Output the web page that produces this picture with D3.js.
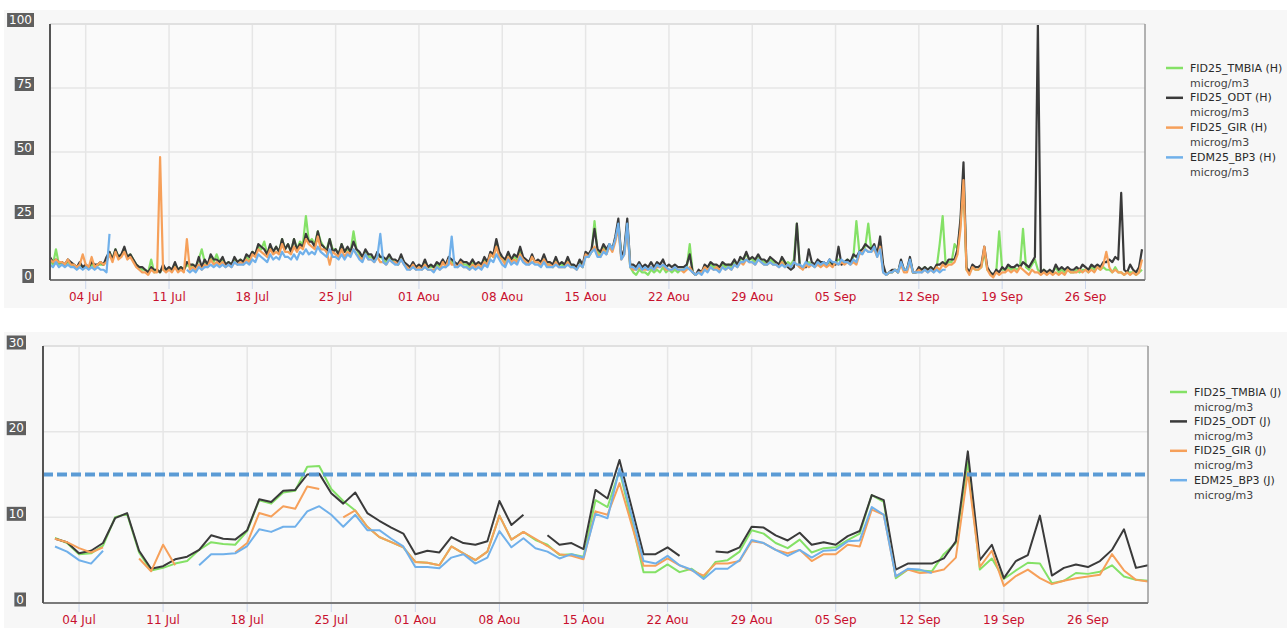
<!DOCTYPE html>
<html>
<head>
<meta charset="utf-8">
<script src="https://cdn.jsdelivr.net/npm/d3@7"></script>
<style>
  body { margin: 0; background: #fff; }
  svg { display: block; font-family: "DejaVu Sans", Verdana, sans-serif; }
</style>
</head>
<body>
<svg id="chart" width="1287" height="628"></svg>
<script>
// Period shown: 1 Jul -> 1 Oct
const START = Date.UTC(2025, 6, 1);
const END = Date.UTC(2025, 9, 1);
const FIRST_TICK = Date.UTC(2025, 6, 4);
const HOUR = 3600e3;
const DAY = 24 * HOUR;
const MONTHS_FR = ["Jan", "Fev", "Mar", "Avr", "Mai", "Jun", "Jul", "Aou", "Sep", "Oct", "Nov", "Dec"];

// ─────────────────────────────────────────────────────────────
// Hourly panel, sampled every 6 h (00h, 06h, 12h, 18h), one row per week
// ─────────────────────────────────────────────────────────────
const TMBIA_H = [
  8,6,12,6, 7,6,7,6, 6,5,6,5, 5,5,6,5, 6,6,6,8, 11,8,12,9, 10,12,9,10,
  8,6,5,4, 4,3,8,3, 4,3,5,4, 4,4,6,4, 5,4,6,5, 6,5,8,12, 7,6,9,7,
  10,7,8,6, 7,6,8,7, 8,7,9,8, 11,10,13,12, 15,10,13,11, 13,11,16,12, 14,11,16,12,
  15,14,25,15, 16,14,19,15, 13,12,16,12, 12,10,14,11, 12,11,19,12, 10,9,11,9, 9,8,10,9,
  8,7,9,8, 7,6,9,7, 5,5,6,5, 5,5,7,5, 5,5,6,5, 7,6,8,7, 6,6,7,6,
  6,5,7,6, 6,6,8,6, 10,9,14,10, 8,7,10,8, 9,8,11,8, 7,7,9,7, 7,6,8,6,
  6,5,8,6, 6,5,8,6, 5,5,7,5, 10,9,11,23, 11,10,13,11, 13,12,16,22, 9,11,22,5,
  3,2,4,3, 3,2,4,3, 4,3,5,3, 4,3,4,3, 4,4,5,14, 3,2,3,3, 5,4,6,5,
  5,5,6,5, 6,5,7,6, 8,8,10,8, 8,7,9,8, 7,6,8,7, 6,6,8,6, 7,6,8,22,
  5,5,6,7, 6,6,7,6, 6,6,7,6, 7,8,7,7, 8,7,9,23, 11,12,13,22, 12,13,10,14,
  5,2,3,3, 4,3,7,4, 4,8,3,3, 4,4,5,4, 5,4,5,14, 25,6,7,7, 14,12,22,40,
  4,3,5,4, 4,5,11,4, 3,2,3,19, 4,4,5,4, 5,4,5,20, 5,4,6,8, 4,3,4,3,
  3,3,5,3, 4,3,4,3, 3,4,3,4, 4,3,5,4, 5,4,5,4, 4,3,5,3, 3,2,3,3,
  3,2,3,4
];

const ODT_H = [
  9,7,8,7, 7,6,8,7, 6,5,7,5, 6,5,7,6, 6,7,6,9, 11,8,12,9, 10,13,9,10,
  8,6,5,5, 4,3,5,4, 4,3,6,4, 5,4,7,4, 5,4,7,6, 6,5,9,5, 8,6,10,8,
  8,7,9,6, 7,6,9,7, 8,7,10,9, 11,10,14,13, 12,10,14,11, 13,11,16,12, 14,11,16,12,
  14,13,18,15, 15,13,19,14, 13,11,16,11, 12,10,14,11, 13,11,15,12, 11,9,12,10, 10,8,11,9,
  9,8,10,8, 8,7,10,7, 6,5,7,5, 6,5,8,5, 6,5,7,6, 8,6,9,8, 7,6,8,7,
  7,6,8,6, 7,6,9,7, 11,10,16,11, 9,8,11,8, 10,9,13,9, 8,7,10,7, 8,7,10,7,
  7,6,9,6, 7,6,9,6, 6,5,8,6, 11,10,12,20, 12,11,14,12, 14,12,17,24, 9,12,24,6,
  6,5,7,5, 6,5,7,5, 7,6,8,5, 6,5,6,5, 5,5,6,10, 3,2,4,3, 6,5,7,6,
  6,5,7,6, 6,6,8,6, 9,8,11,8, 9,8,10,8, 8,7,9,8, 7,6,9,7, 5,4,5,22,
  5,5,5,12, 7,6,8,7, 7,6,8,6, 6,13,6,7, 8,7,10,9, 11,12,14,13, 12,14,10,17,
  6,2,3,4, 4,3,8,4, 4,9,3,3, 5,4,5,4, 5,4,6,6, 7,6,8,8, 8,12,24,46,
  5,3,6,5, 5,6,13,5, 3,2,4,3, 5,4,6,5, 5,6,5,7, 6,5,7,9, 100,3,4,3,
  4,3,6,4, 5,4,5,4, 4,5,4,6, 5,4,6,5, 6,5,7,7, 8,7,9,8, 34,4,3,6,
  4,3,5,12
];

const GIR_H = [
  8,7,8,7, 7,6,8,6, 6,5,6,10, 6,5,9,5, 6,7,6,7, 10,7,11,8, 9,11,8,9,
  7,5,4,3, 3,2,4,3, 3,48,4,3, 4,3,5,3, 4,3,16,4, 5,4,6,4, 6,5,8,6,
  7,6,7,5, 6,5,7,6, 7,6,8,7, 10,9,12,11, 10,9,12,10, 11,10,14,11, 11,10,13,11,
  13,12,16,14, 13,12,17,12, 12,11,6,11, 10,9,12,9, 11,10,12,10, 9,8,10,8, 8,7,9,7,
  7,6,8,7, 7,6,8,6, 5,4,6,4, 5,4,6,4, 4,4,5,4, 7,5,8,6, 6,5,7,5,
  5,4,6,5, 6,5,7,6, 10,9,13,9, 8,6,9,7, 8,7,10,8, 7,6,9,7, 7,6,8,6,
  6,5,7,5, 5,5,7,5, 5,4,6,5, 10,9,11,13, 10,9,12,10, 13,11,15,20, 8,10,20,5,
  4,4,5,4, 4,4,5,4, 5,5,6,4, 4,4,5,4, 4,3,4,5, 3,2,3,3, 5,4,5,4,
  5,4,5,4, 5,4,6,5, 7,6,8,7, 7,6,8,7, 6,6,7,6, 6,5,7,5, 6,5,7,6,
  5,4,6,5, 6,5,6,5, 6,5,6,5, 7,6,7,6, 7,6,7,6, 10,11,12,11, 11,12,9,13,
  3,2,3,3, 4,3,6,3, 3,7,3,3, 4,3,4,3, 4,3,5,4, 6,5,6,6, 7,10,20,39,
  4,2,5,4, 4,5,13,4, 2,1,3,2, 3,3,4,3, 4,3,5,4, 3,2,4,3, 3,2,3,2,
  3,2,3,2, 3,2,4,3, 3,3,4,3, 4,3,4,3, 5,4,6,11, 5,3,4,3, 3,2,3,2,
  3,2,3,8
];

const BP3_H = [
  6,5,7,5, 6,5,6,5, 5,4,5,4, 5,4,5,4, 5,4,4,3, 18,null,null,null, null,null,null,null,
  null,null,null,null, null,null,null,null, null,null,null,null, null,null,null,null, null,null,4,3, 4,3,5,4, 5,5,6,5,
  6,5,6,5, 6,5,7,6, 6,6,7,6, 8,7,10,9, 8,7,10,8, 9,8,11,9, 9,8,10,8,
  11,10,12,10, 11,10,13,11, 10,9,12,9, 9,8,10,8, 10,9,12,10, 8,7,10,8, 8,7,9,18,
  7,6,8,7, 6,6,8,6, 4,4,5,4, 4,4,5,4, 4,3,5,4, 5,5,6,17, 5,5,6,5,
  5,4,5,4, 5,4,6,5, 8,7,10,8, 6,5,8,6, 7,6,9,7, 6,6,7,6, 6,5,7,5,
  5,5,6,5, 5,5,6,5, 5,4,6,5, 9,9,11,12, 9,9,11,10, 14,12,16,22, 8,10,22,5,
  5,4,6,4, 5,4,5,4, 6,5,6,5, 4,4,5,4, 4,4,5,4, 3,2,3,2, 4,3,5,4,
  4,3,5,4, 5,4,6,5, 7,7,8,7, 7,6,8,7, 6,6,7,6, 6,5,6,5, 6,5,7,6,
  6,5,7,6, 6,5,7,6, 7,6,8,7, 7,6,8,7, 7,6,8,7, 11,10,12,11, 11,13,9,12,
  3,2,3,3, 4,3,7,4, 4,8,3,3, 3,3,4,3, 4,3,4,3, 4,4
];

// ─────────────────────────────────────────────────────────────
// Daily means, first value on 2 Jul
// ─────────────────────────────────────────────────────────────
const TMBIA_J = [
  7.6,7.0,5.7,5.8,6.7,10.0,10.4,5.9,3.8,4.1,
  4.6,4.9,6.2,7.1,6.9,6.8,8.4,12.0,11.6,12.9,
  13.1,15.9,16.0,13.3,11.9,10.8,8.9,7.7,7.1,6.5,
  4.8,4.7,4.4,6.6,5.8,5.0,6.0,10.2,7.4,8.3,
  7.35,6.8,5.6,5.7,5.4,12.0,11.2,15.5,9.6,3.6,
  3.6,4.5,3.6,4.0,3.0,4.8,5.0,6.0,8.5,8.1,
  7.0,6.4,7.4,5.9,6.4,6.5,7.35,8.1,12.6,11.8,
  2.9,3.9,3.8,3.7,5.7,7.0,16.5,3.9,5.2,2.8,
  3.8,4.7,4.6,2.3,2.6,3.5,3.4,3.65,4.4,3.1,
  2.7,2.6
];

const ODT_J = [
  7.5,7.1,5.8,6.1,7.0,9.9,10.5,6.1,4.0,4.3,
  5.1,5.4,6.2,7.9,7.5,7.4,8.5,12.1,11.8,13.1,
  13.2,15.0,15.1,12.8,11.6,12.9,10.5,9.6,8.8,8.1,
  5.7,6.1,5.9,7.7,7.0,6.8,7.2,11.9,9.1,10.3,
  null,7.9,6.8,7.0,6.3,13.2,12.2,16.7,11.2,5.7,
  5.7,6.5,5.5,null,null,6.0,5.9,6.5,8.9,8.8,
  7.9,7.3,8.2,6.8,7.1,6.8,7.8,8.4,12.6,12.0,
  3.9,4.6,4.6,4.6,5.2,7.2,17.7,5.0,6.8,2.9,
  4.9,5.6,10.2,3.2,4.1,4.5,4.2,4.9,6.2,8.6,
  4.1,4.4
];

const GIR_J = [
  7.5,7.1,6.4,5.9,6.5,null,null,5.2,3.7,6.8,
  4.4,null,null,null,null,5.9,7.0,10.5,10.1,11.3,
  11.0,13.6,13.3,null,10.0,10.8,8.9,7.7,7.1,6.5,
  4.8,4.7,4.4,6.6,5.8,5.0,6.0,10.2,7.4,8.3,
  7.5,6.65,5.7,5.5,5.1,10.7,10.3,14.0,9.2,4.35,
  4.35,5.2,4.4,3.8,3.2,4.6,4.6,4.9,7.2,7.0,
  6.2,5.8,6.2,4.9,5.7,5.7,6.8,6.6,10.9,10.3,
  3.1,3.9,3.5,3.6,3.9,5.3,15.3,4.2,6.1,2.0,
  3.15,3.9,2.9,2.2,2.6,2.9,3.1,3.3,5.7,3.8,
  2.7,2.5
];

const BP3_J = [
  6.6,6.0,5.0,4.6,6.1,null,null,null,null,null,
  null,null,4.4,5.7,5.7,5.8,6.65,8.6,8.3,8.9,
  8.9,10.7,11.3,10.3,8.9,10.3,8.5,8.5,7.5,6.6,
  4.2,4.2,4.05,5.3,5.7,4.6,5.3,8.4,6.5,7.55,
  6.4,6.0,5.2,5.7,5.3,10.4,9.9,15.7,10.3,4.9,
  4.6,5.5,4.4,3.9,2.8,4.0,4.0,5.0,7.35,7.0,
  6.2,5.5,6.2,5.3,6.1,6.2,7.2,7.3,11.2,10.3,
  3.1,4.0,3.9,3.5
];

const STATIONS = ["FID25_TMBIA", "FID25_ODT", "FID25_GIR", "EDM25_BP3"];
const COLORS = ["#84e166", "#3a3a3a", "#f6a05a", "#70b0ea"];
const UNIT = "microg/m3";
const Y_TICKS_H = [0, 25, 50, 75, 100];
const Y_TICKS_J = [0, 10, 20, 30];
const DAILY_LIMIT = 15;

const svg = d3.select("#chart");

function tickLabel(d) {
  return d3.utcFormat("%d")(d) + " " + MONTHS_FR[d.getUTCMonth()];
}

function drawPanel(cfg) {
  const g = svg.append("g");

  g.append("rect")
    .attr("x", cfg.box[0]).attr("y", cfg.box[1])
    .attr("width", cfg.box[2]).attr("height", cfg.box[3])
    .attr("fill", "#f7f7f7");

  const x = d3.scaleUtc().domain([START, END]).range([cfg.left, cfg.right]);
  const y = d3.scaleLinear().domain([0, cfg.yTicks[cfg.yTicks.length - 1]]).range([cfg.bottom, cfg.top]);

  g.append("rect")
    .attr("x", cfg.left).attr("y", cfg.top)
    .attr("width", cfg.right - cfg.left).attr("height", cfg.bottom - cfg.top)
    .attr("fill", "#fafafa");

  // grid
  g.selectAll(".hgrid").data(cfg.yTicks.slice(1, -1)).join("line")
    .attr("x1", cfg.left).attr("x2", cfg.right)
    .attr("y1", d => y(d)).attr("y2", d => y(d))
    .attr("stroke", "#e6e6e6").attr("stroke-width", 1.5);

  const ticks = d3.utcDay.range(FIRST_TICK, END, 7);
  g.selectAll(".vgrid").data(ticks).join("line")
    .attr("x1", d => x(d)).attr("x2", d => x(d))
    .attr("y1", cfg.top).attr("y2", cfg.bottom)
    .attr("stroke", "#e6e6e6").attr("stroke-width", 1.5);

  g.selectAll(".tick").data(ticks).join("line")
    .attr("x1", d => x(d)).attr("x2", d => x(d))
    .attr("y1", cfg.bottom).attr("y2", cfg.bottom + 9)
    .attr("stroke", "#ccd6eb").attr("stroke-width", 1);

  g.selectAll(".xlab").data(ticks).join("text")
    .attr("x", d => x(d)).attr("y", cfg.bottom + 17)
    .attr("text-anchor", "middle").attr("dominant-baseline", "central")
    .attr("font-size", 12).attr("fill", "#c8102e")
    .text(tickLabel);

  // series
  const line = d3.line()
    .defined(d => d.v != null)
    .x(d => x(d.t))
    .y(d => y(d.v));

  cfg.series.forEach((values, k) => {
    const pts = values.map((v, i) => ({ t: cfg.time(i), v }));
    g.append("path")
      .attr("d", line(pts))
      .attr("fill", "none")
      .attr("stroke", COLORS[k])
      .attr("stroke-width", cfg.lineWidth)
      .attr("stroke-linejoin", "round");
  });

  if (cfg.limit != null) {
    g.append("line")
      .attr("x1", cfg.left).attr("x2", cfg.right)
      .attr("y1", y(cfg.limit)).attr("y2", y(cfg.limit))
      .attr("stroke", "#5b9bd5").attr("stroke-width", 4)
      .attr("stroke-dasharray", "10,4");
  }

  // frame
  g.append("line").attr("x1", cfg.left).attr("x2", cfg.right)
    .attr("y1", cfg.top).attr("y2", cfg.top)
    .attr("stroke", "#e0e0e0").attr("stroke-width", 2);
  g.append("line").attr("x1", cfg.right).attr("x2", cfg.right)
    .attr("y1", cfg.top).attr("y2", cfg.bottom)
    .attr("stroke", "#9a9a9a").attr("stroke-width", 1.5);
  g.append("line").attr("x1", cfg.left).attr("x2", cfg.right)
    .attr("y1", cfg.bottom).attr("y2", cfg.bottom)
    .attr("stroke", "#7a7a7a").attr("stroke-width", 2);
  g.append("line").attr("x1", cfg.left).attr("x2", cfg.left)
    .attr("y1", cfg.top).attr("y2", cfg.bottom)
    .attr("stroke", "#555").attr("stroke-width", 2);

  // y labels in dark boxes
  const ylab = g.selectAll(".ylab").data(cfg.yTicks).join("g");
  ylab.append("rect").attr("fill", "#5f5f5f");
  ylab.append("text")
    .attr("x", cfg.labelRight - 2)
    .attr("y", d => y(d) - cfg.labelShift)
    .attr("text-anchor", "end").attr("dominant-baseline", "central")
    .attr("font-size", 12).attr("fill", "#fff")
    .text(d => d);
  ylab.each(function () {
    const grp = d3.select(this);
    const bb = grp.select("text").node().getBBox();
    grp.select("rect")
      .attr("x", bb.x - 2).attr("y", bb.y)
      .attr("width", bb.width + 4).attr("height", bb.height);
  });

  // legend
  const L = cfg.legend;
  STATIONS.forEach((name, k) => {
    const cy = L.y + k * L.step;
    g.append("line")
      .attr("x1", L.x).attr("x2", L.x + 17)
      .attr("y1", cy).attr("y2", cy)
      .attr("stroke", COLORS[k]).attr("stroke-width", 2.5);
    g.append("text")
      .attr("x", L.x + 24).attr("y", cy)
      .attr("dominant-baseline", "central")
      .attr("font-size", 11).attr("fill", "#2a2a2a")
      .text(`${name} (${cfg.suffix})`);
    g.append("text")
      .attr("x", L.x + 24).attr("y", cy + 15)
      .attr("dominant-baseline", "central")
      .attr("font-size", 11).attr("fill", "#444")
      .text(UNIT);
  });
}

drawPanel({
  box: [4, 10, 1283, 298],
  left: 50, right: 1145, top: 24, bottom: 280,
  yTicks: Y_TICKS_H,
  labelRight: 34, labelShift: 4,
  series: [TMBIA_H, ODT_H, GIR_H, BP3_H],
  time: i => START + i * 6 * HOUR,
  lineWidth: 2.2,
  limit: null,
  suffix: "H",
  legend: { x: 1166, y: 68, step: 29.8 }
});

drawPanel({
  box: [4, 332, 1283, 296],
  left: 43, right: 1148, top: 346, bottom: 603,
  yTicks: Y_TICKS_J,
  labelRight: 26, labelShift: 3.5,
  series: [TMBIA_J, ODT_J, GIR_J, BP3_J],
  time: i => START + (i + 1) * DAY,
  lineWidth: 2,
  limit: DAILY_LIMIT,
  suffix: "J",
  legend: { x: 1170, y: 392, step: 29.4 }
});
</script>
</body>
</html>
